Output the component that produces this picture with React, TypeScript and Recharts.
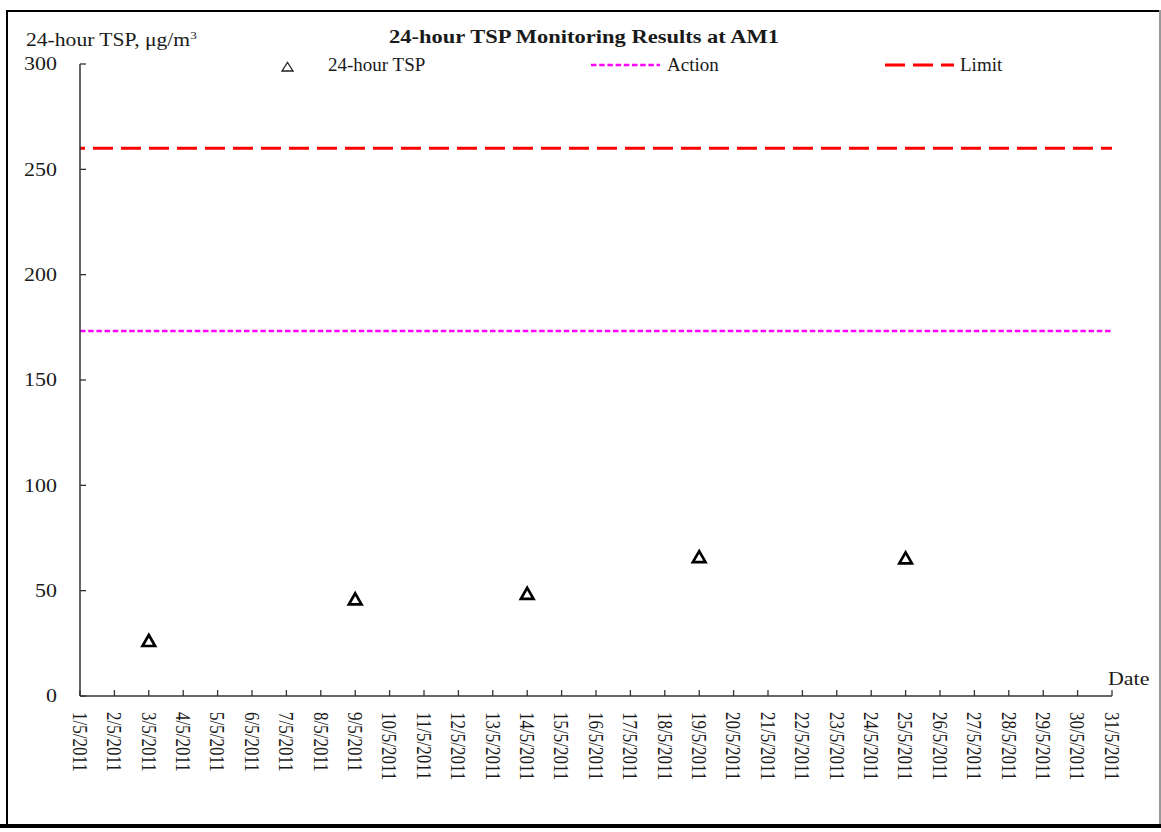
import { LineChart, Line, XAxis, YAxis, ReferenceLine, Legend } from "recharts";

// all days of May 2011 shown on the x axis
const DATE_LABELS = [
  "1/5/2011", "2/5/2011", "3/5/2011", "4/5/2011", "5/5/2011", "6/5/2011",
  "7/5/2011", "8/5/2011", "9/5/2011", "10/5/2011", "11/5/2011", "12/5/2011",
  "13/5/2011", "14/5/2011", "15/5/2011", "16/5/2011", "17/5/2011", "18/5/2011",
  "19/5/2011", "20/5/2011", "21/5/2011", "22/5/2011", "23/5/2011", "24/5/2011",
  "25/5/2011", "26/5/2011", "27/5/2011", "28/5/2011", "29/5/2011", "30/5/2011",
  "31/5/2011",
];

// monitoring days and measured 24-hour TSP (ug/m3)
const SAMPLE_DATES = ["3/5/2011", "9/5/2011", "14/5/2011", "19/5/2011", "25/5/2011"];
const TSP_VALUES = [26.1, 45.9, 48.5, 65.9, 65.3];

const ACTION_LEVEL = 173.3;
const LIMIT_LEVEL = 260;

const Y_TICKS = [0, 50, 100, 150, 200, 250, 300];

const data = DATE_LABELS.map((date) => {
  const i = SAMPLE_DATES.indexOf(date);
  return { date, tsp: i >= 0 ? TSP_VALUES[i] : null };
});

const FONT = "'Liberation Serif', 'Times New Roman', serif";
const TEXT = "#1a1a1a";
const AXIS = "#333";
// the source picture is a bit wide, text is stretched sideways
const SX = 1.22;

function TriangleDot(props: any) {
  const { cx, cy, value, index } = props;
  if (value == null || cx == null || cy == null) return <g key={`d${index}`} />;
  return (
    <path
      key={`d${index}`}
      d={`M${cx},${cy - 6} L${cx + 6.3},${cy + 5} L${cx - 6.3},${cy + 5} Z`}
      fill="#fff"
      stroke="#000"
      strokeWidth={2.7}
    />
  );
}

function XTick(props: any) {
  const { x, y, payload } = props;
  return (
    <g>
      <line x1={x} x2={x} y1={y} y2={y - 6} stroke={AXIS} strokeWidth={1.3} />
      <text
        transform={`translate(${x},${y + 16}) scale(${SX},1) rotate(90)`}
        dy="0.35em"
        textAnchor="start"
        fontFamily={FONT}
        fontSize={17}
        fill={TEXT}
      >
        {payload.value}
      </text>
    </g>
  );
}

function YTick(props: any) {
  const { x, y, payload } = props;
  return (
    <g>
      <line x1={x} x2={x + 6} y1={y} y2={y} stroke={AXIS} strokeWidth={1.3} />
      <text
        transform={`translate(${x - 23},${y}) scale(${SX},1)`}
        dy="0.35em"
        textAnchor="end"
        fontFamily={FONT}
        fontSize={18}
        fill={TEXT}
      >
        {payload.value}
      </text>
    </g>
  );
}

function LegendBox() {
  return (
    <svg width={1161} height={80} style={{ display: "block" }}>
      <path d="M282,71 L287.5,62.5 L293,71 Z" fill="none" stroke="#222" strokeWidth={1.3} />
      <text x={328} y={71} fontFamily={FONT} fontSize={19} fill={TEXT}>
        24-hour TSP
      </text>
      <line x1={591} x2={660} y1={65} y2={65} stroke="#FF00FF" strokeWidth={2.5} strokeDasharray="5.5 2.7" />
      <text x={667} y={71} fontFamily={FONT} fontSize={19} fill={TEXT}>
        Action
      </text>
      <line x1={885} x2={954} y1={65} y2={65} stroke="#FF0000" strokeWidth={3} strokeDasharray="20 8" />
      <text x={960} y={71} fontFamily={FONT} fontSize={19} fill={TEXT}>
        Limit
      </text>
    </svg>
  );
}

export default function App() {
  return (
    <div style={{ position: "absolute", left: 0, top: 0, width: 1161, height: 832, background: "#fff" }}>
      {/* frame */}
      <div style={{ position: "absolute", left: 7, top: 10, width: 1153, height: 2, background: "#000" }} />
      <div style={{ position: "absolute", left: 6, top: 10, width: 2, height: 818, background: "#000" }} />
      <div style={{ position: "absolute", left: 1159, top: 10, width: 2, height: 818, background: "#999" }} />
      <div style={{ position: "absolute", left: 0, top: 824, width: 1161, height: 4, background: "#000" }} />

      <div
        style={{
          position: "absolute",
          left: 384,
          width: 400,
          top: 28,
          textAlign: "center",
          fontFamily: FONT,
          fontWeight: 700,
          fontSize: 18,
          lineHeight: "18px",
          color: TEXT,
          transform: "scaleX(1.25)",
          transformOrigin: "center",
          whiteSpace: "nowrap",
          zIndex: 2,
        }}
      >
        24-hour TSP Monitoring Results at AM1
      </div>

      <div style={{ position: "absolute", left: 0, top: 0 }}>
        <LineChart width={1161} height={832} data={data} margin={{ top: 64, right: 49, bottom: 0, left: 20 }}>
          <XAxis
            dataKey="date"
            type="category"
            interval={0}
            padding={{ left: 0, right: 0 }}
            height={136}
            tickSize={0}
            tickMargin={0}
            tickLine={false}
            tick={<XTick />}
            axisLine={{ stroke: AXIS, strokeWidth: 1.5 }}
            label={{
              content: () => (
                <text
                  transform={`translate(1108,685) scale(${SX},1)`}
                  fontFamily={FONT}
                  fontSize={18}
                  fill={TEXT}
                >
                  Date
                </text>
              ),
            }}
          />
          <YAxis
            type="number"
            domain={[0, 300]}
            ticks={Y_TICKS}
            width={60}
            tickSize={0}
            tickMargin={0}
            tickLine={false}
            tick={<YTick />}
            axisLine={{ stroke: AXIS, strokeWidth: 1.5 }}
            label={{
              content: () => (
                <text
                  transform={`translate(26,46) scale(1.2,1)`}
                  fontFamily={FONT}
                  fontSize={18}
                  fill={TEXT}
                >
                  24-hour TSP, μg/m
                  <tspan dy={-7} fontSize={11}>
                    3
                  </tspan>
                </text>
              ),
            }}
          />
          <Legend
            layout="vertical"
            align="center"
            verticalAlign="middle"
            wrapperStyle={{ position: "absolute", left: 0, top: 0, width: 1161, height: 80 }}
            content={() => <LegendBox />}
          />
          <ReferenceLine
            y={LIMIT_LEVEL}
            stroke="#FF0000"
            strokeWidth={3}
            strokeDasharray="20 8"
            strokeDashoffset={15}
          />
          <ReferenceLine y={ACTION_LEVEL} stroke="#FF00FF" strokeWidth={2.5} strokeDasharray="5.5 2.7" />
          <Line
            dataKey="tsp"
            stroke="none"
            dot={(p: any) => <TriangleDot {...p} />}
            activeDot={false}
            isAnimationActive={false}
          />
        </LineChart>
      </div>
    </div>
  );
}
